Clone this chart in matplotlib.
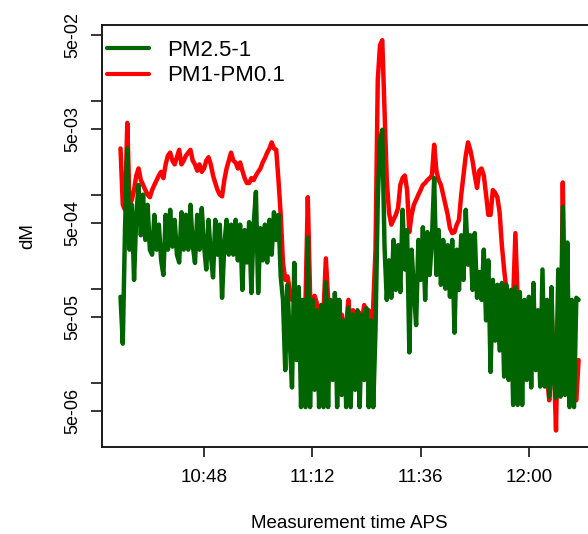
import numpy as np
import matplotlib
matplotlib.use("Agg")
import matplotlib.pyplot as plt
from matplotlib.ticker import NullLocator

plt.rcParams['font.family'] = ['Liberation Sans', 'DejaVu Sans']

# APS samples every 30 s, time in minutes after 10:00
t_min = 29.5 + 0.5 * np.arange(204)

pm25_1 = [
    8.2e-5, 2.6e-5, 4.4e-4, 3.1e-3, 2.6e-4, 7.8e-4, 1.24e-4, 6.1e-4, 1.27e-3, 3.7e-4,
    1.0e-3, 3.3e-4, 7.8e-4, 2.6e-4, 2.3e-4, 6.1e-4, 2.6e-4, 4.8e-4, 2.0e-4, 1.4e-4,
    6.1e-4, 2.6e-4, 6.9e-4, 2.8e-4, 5.4e-4, 2.3e-4, 1.9e-4, 6.5e-4, 2.6e-4, 6.1e-4,
    2.6e-4, 7.8e-4, 2.9e-4, 1.88e-4, 6.1e-4, 2.6e-4, 7.2e-4, 2.9e-4, 1.6e-4, 5.4e-4,
    2.3e-4, 1.32e-4, 5.4e-4, 2.3e-4, 4.8e-4, 8.0e-5, 2.9e-4, 5.4e-4, 2.3e-4, 4.8e-4,
    2.3e-4, 5.4e-4, 2.0e-4, 4.8e-4, 9.7e-5, 4.2e-4, 1.9e-4, 5.1e-4, 9.0e-5, 4.8e-4,
    1.07e-3, 9.0e-5, 4.4e-4, 2.0e-4, 4.8e-4, 1.9e-4, 5.4e-4, 2.3e-4, 6.5e-4, 3.3e-4,
    6.1e-4, 1.35e-4, 7.6e-5, 1.36e-5, 1.1e-4, 2.8e-5, 8.9e-6, 1.88e-4, 1.74e-5, 1.04e-4,
    5.5e-6, 7.6e-5, 5.5e-6, 3.5e-4, 5.5e-6, 7.6e-5, 8.4e-6, 5.9e-5, 5.5e-6, 6.7e-5,
    5.5e-6, 1.17e-4, 5.5e-6, 7.6e-5, 1.07e-5, 9.0e-5, 5.5e-6, 7.6e-5, 7.4e-6, 4.6e-5,
    5.5e-6, 6.3e-5, 5.5e-6, 5.3e-5, 8.4e-6, 5.9e-5, 5.5e-6, 5.3e-5, 1.07e-5, 6.2e-5,
    5.5e-6, 4.6e-5, 5.5e-6, 3.6e-5, 8.8e-4, 3.8e-3, 4.9e-3, 2.8e-4, 7.6e-5, 2.0e-4,
    8.0e-5, 3.3e-4, 9.7e-5, 2.9e-4, 9.2e-5, 6.9e-4, 1.6e-4, 4.2e-4, 2.1e-5, 2.6e-4,
    9.7e-5, 4.1e-5, 3.3e-4, 1.24e-4, 4.5e-4, 7.6e-5, 4.0e-4, 1.4e-4, 3.3e-4, 1.5e-3,
    1.4e-4, 4.2e-4, 1.1e-4, 3.3e-4, 1.0e-4, 2.9e-4, 8.2e-5, 3.3e-4, 3.4e-5, 2.6e-4,
    9.7e-5, 3.7e-4, 1.24e-4, 6.9e-4, 1.8e-4, 3.7e-4, 9.7e-5, 3.9e-4, 8.0e-5, 1.5e-4,
    7.6e-5, 2.6e-4, 4.6e-5, 2.0e-4, 1.3e-5, 1.24e-4, 2.8e-5, 1.1e-4, 2.2e-5, 1.15e-4,
    1.16e-5, 1.1e-4, 1.07e-5, 9.7e-5, 5.8e-6, 1.04e-4, 5.8e-6, 9.2e-5, 5.8e-6, 7.6e-5,
    1.07e-5, 8.2e-5, 8.9e-6, 1.15e-4, 1.36e-5, 5.9e-5, 9.1e-6, 1.6e-4, 9.1e-6, 7.6e-5,
    7.1e-6, 1.04e-4, 1.07e-5, 6.9e-6, 1.6e-4, 7.1e-6, 7.4e-4, 7.4e-6, 3.1e-4, 5.5e-6,
    7.6e-5, 5.5e-6, 8.0e-5, 7.6e-5,
]

pm1_pm01 = [
    3.1e-3, 7.8e-4, 6.9e-4, 5.8e-3, 7.8e-4, 8.8e-4, 1.12e-3, 1.6e-3, 1.9e-3, 1.43e-3,
    1.27e-3, 1.12e-3, 1.0e-3, 9.4e-4, 1.12e-3, 1.27e-3, 1.43e-3, 1.6e-3, 1.75e-3, 1.5e-3,
    2.1e-3, 2.6e-3, 2.8e-3, 2.3e-3, 2.1e-3, 2.5e-3, 3.0e-3, 2.1e-3, 2.3e-3, 2.6e-3,
    2.8e-3, 3.0e-3, 2.3e-3, 2.1e-3, 1.8e-3, 2.1e-3, 1.75e-3, 1.9e-3, 2.3e-3, 2.5e-3,
    2.1e-3, 1.6e-3, 1.33e-3, 1.12e-3, 1.0e-3, 9.6e-4, 1.43e-3, 1.9e-3, 2.3e-3, 2.8e-3,
    2.3e-3, 2.2e-3, 1.9e-3, 2.2e-3, 1.8e-3, 1.5e-3, 1.33e-3, 1.33e-3, 1.5e-3, 1.43e-3,
    1.6e-3, 1.75e-3, 1.9e-3, 2.2e-3, 2.45e-3, 2.8e-3, 3.1e-3, 3.6e-3, 3.1e-3, 3.0e-3,
    1.43e-3, 6.1e-4, 1.88e-4, 1.24e-4, 1.35e-4, 9.7e-5, 7.6e-5, 7.6e-5, 5.9e-5, 7.6e-5,
    7.6e-5, 3.6e-5, 7.6e-5, 9.4e-4, 9.0e-5, 2.2e-5, 8.4e-5, 7.0e-5, 1.74e-5, 6.7e-5,
    5.9e-5, 2.1e-4, 7.6e-5, 2.8e-5, 5.9e-5, 5.3e-5, 7.6e-5, 2.2e-5, 5.3e-5, 3.6e-5,
    4.1e-5, 7.6e-5, 3.6e-5, 5.9e-5, 4.6e-5, 3.6e-5, 5.5e-5, 4.6e-5, 6.7e-5, 3.6e-5,
    5.9e-5, 6.5e-6, 6.7e-5, 2.6e-4, 1.66e-2, 3.9e-2, 4.4e-2, 7.9e-3, 1.43e-3, 6.4e-4,
    4.8e-4, 5.4e-4, 6.1e-4, 7.2e-4, 1.27e-3, 1.5e-3, 1.6e-3, 1.12e-3, 4.0e-4, 6.1e-4,
    7.8e-4, 8.8e-4, 1.0e-3, 1.12e-3, 1.27e-3, 1.33e-3, 1.43e-3, 1.5e-3, 1.6e-3, 3.4e-3,
    1.8e-3, 1.43e-3, 1.27e-3, 1.0e-3, 7.8e-4, 6.1e-4, 4.4e-4, 3.9e-4, 4.0e-4, 4.8e-4,
    5.4e-4, 1.0e-3, 1.6e-3, 2.6e-3, 3.6e-3, 3.0e-3, 2.3e-3, 1.6e-3, 1.18e-3, 1.8e-3,
    1.9e-3, 1.6e-3, 1.0e-3, 6.1e-4, 6.1e-4, 1.12e-3, 1.05e-3, 9.4e-4, 6.5e-4, 2.9e-4,
    1.6e-4, 9.7e-5, 7.6e-5, 3.6e-5, 7.6e-5, 3.9e-4, 7.6e-5, 5.9e-5, 4.6e-5, 5.3e-5,
    4.6e-5, 4.1e-5, 3.6e-5, 5.9e-5, 3.9e-5, 2.6e-5, 4.6e-5, 3.6e-5, 2.4e-5, 1.16e-5,
    6.5e-6, 5.9e-5, 1.74e-5, 3.1e-6, 7.6e-5, 1.07e-5, 1.35e-3, 4.6e-5, 1.74e-5, 5.8e-6,
    1.74e-5, 7.4e-6, 6.5e-6, 1.74e-5,
]

series_names = ["PM2.5-1", "PM1-PM0.1"]
series_colors = ["#006400", "#ff0000"]

x_ticks = [48, 72, 96, 120]
x_ticklabels = ["10:48", "11:12", "11:36", "12:00"]
y_ticks = [5e-6, 1e-5, 5e-5, 1e-4, 5e-4, 1e-3, 5e-3, 1e-2, 5e-2]
y_ticklabels = ["5e-06", "", "5e-05", "", "5e-04", "", "5e-03", "", "5e-02"]

fig = plt.figure(figsize=(5.88, 5.34), dpi=100)
# box runs past the right edge of the image
ax = fig.add_axes([102.2 / 588, 87 / 534, 494.7 / 588, 422 / 534])

line_kw = dict(lw=3.2, solid_joinstyle="round", solid_capstyle="round")
l_red, = ax.plot(t_min, pm1_pm01, color=series_colors[1], zorder=2, **line_kw)
l_green, = ax.plot(t_min, pm25_1, color=series_colors[0], zorder=3, **line_kw)

ax.set_yscale("log")
ax.set_xlim(25.44, 135.06)
ax.set_ylim(2.07e-6, 6.38e-2)

ax.set_xticks(x_ticks)
ax.set_xticklabels(x_ticklabels)
ax.set_yticks(y_ticks)
ax.set_yticklabels(y_ticklabels, rotation=90, va="center")
ax.yaxis.set_minor_locator(NullLocator())
ax.xaxis.set_minor_locator(NullLocator())

ax.tick_params(axis="y", length=8, width=1.1, pad=7, labelsize=13)
ax.tick_params(axis="x", length=7, width=1.1, pad=9, labelsize=13.5)
for s in ax.spines.values():
    s.set_linewidth(1.4)
    s.set_color("#1a1a1a")

fig.text(28 / 588, (534 - 236) / 534, "dM", rotation=90, ha="center", va="center", fontsize=13.5)
fig.text(349.5 / 588, (534 - 523.5) / 534, "Measurement time APS", ha="center", va="center", fontsize=13.5)

leg = ax.legend([l_green, l_red], series_names, loc="upper left",
                bbox_to_anchor=(107 / 588, (534 - 40) / 534), bbox_transform=fig.transFigure,
                frameon=False, fontsize=16, handlelength=1.9, handletextpad=0.8,
                borderpad=0, borderaxespad=0, labelspacing=0.2)
for h in leg.get_lines():
    h.set_linewidth(3)

fig.savefig("out.png", dpi=100)
